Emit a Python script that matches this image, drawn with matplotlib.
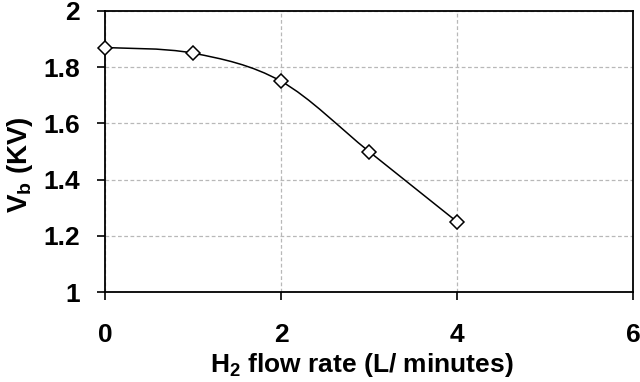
import numpy as np
import matplotlib
matplotlib.use("Agg")
import matplotlib.pyplot as plt
from matplotlib.path import Path
from matplotlib.patches import PathPatch

# podaci ocitani sa grafika
protok = [0, 1, 2, 3, 4]
napon = [1.87, 1.85, 1.75, 1.50, 1.25]
x_ticks = [0, 2, 4, 6]
y_ticks = [1, 1.2, 1.4, 1.6, 1.8, 2]

plt.rcParams['font.family'] = ['Liberation Sans', 'DejaVu Sans']
plt.rcParams['font.weight'] = 'bold'
plt.rcParams['mathtext.fontset'] = 'custom'
plt.rcParams['mathtext.rm'] = 'Liberation Sans:bold'
plt.rcParams['mathtext.bf'] = 'Liberation Sans:bold'
plt.rcParams['mathtext.default'] = 'bf'


def glatka_putanja(xs, ys):
    # Excel-ov "smoothed line": Bezier segmenti kao Catmull-Rom
    p = np.column_stack([xs, ys]).astype(float)
    n = len(p)
    verts = [p[0]]
    codes = [Path.MOVETO]
    for i in range(n - 1):
        p0 = p[i - 1] if i > 0 else p[i]
        p3 = p[i + 2] if i + 2 < n else p[i + 1]
        c1 = p[i] + (p[i + 1] - p0) / 6
        c2 = p[i + 1] - (p3 - p[i]) / 6
        verts += [c1, c2, p[i + 1]]
        codes += [Path.CURVE4] * 3
    return Path(verts, codes)


fig = plt.figure(figsize=(6.4, 3.82), dpi=100)
ax = fig.add_axes([105 / 640, 1 - 292 / 382, (633 - 105) / 640, (292 - 11) / 382])

ax.add_patch(PathPatch(glatka_putanja(protok, napon), fill=False, color='black', lw=1.1, zorder=3))
ax.plot(protok, napon, linestyle='none', marker='D', ms=7.5, mfc='white', mec='black', mew=1.1, zorder=4,
        clip_on=False)

ax.set_xlim(0, 6)
ax.set_ylim(1, 2)
ax.set_xticks(x_ticks)
ax.set_yticks(y_ticks)
ax.set_xticklabels([str(t) for t in x_ticks], fontweight='bold')
ax.set_yticklabels(['1', '1.2', '1.4', '1.6', '1.8', '2'], fontweight='bold')
ax.tick_params(axis='both', direction='out', length=6, width=1.2, labelsize=19)
ax.tick_params(axis='y', pad=12)
ax.tick_params(axis='x', pad=16)
for s in ax.spines.values():
    s.set_linewidth(1.3)

ax.grid(True, color='#b8b8b8', linestyle=(0, (3, 2)), linewidth=0.9)
ax.set_axisbelow(True)

ax.set_xlabel('H$_2$ flow rate (L/ minutes)', fontsize=19, fontweight='bold', labelpad=3)
ax.xaxis.set_label_coords(0.486, -0.21)
ax.set_ylabel('V$_b$ (KV)', fontsize=20, fontweight='bold')
ax.yaxis.set_label_coords(-0.132, 0.455)

fig.savefig('out.png', dpi=100)
